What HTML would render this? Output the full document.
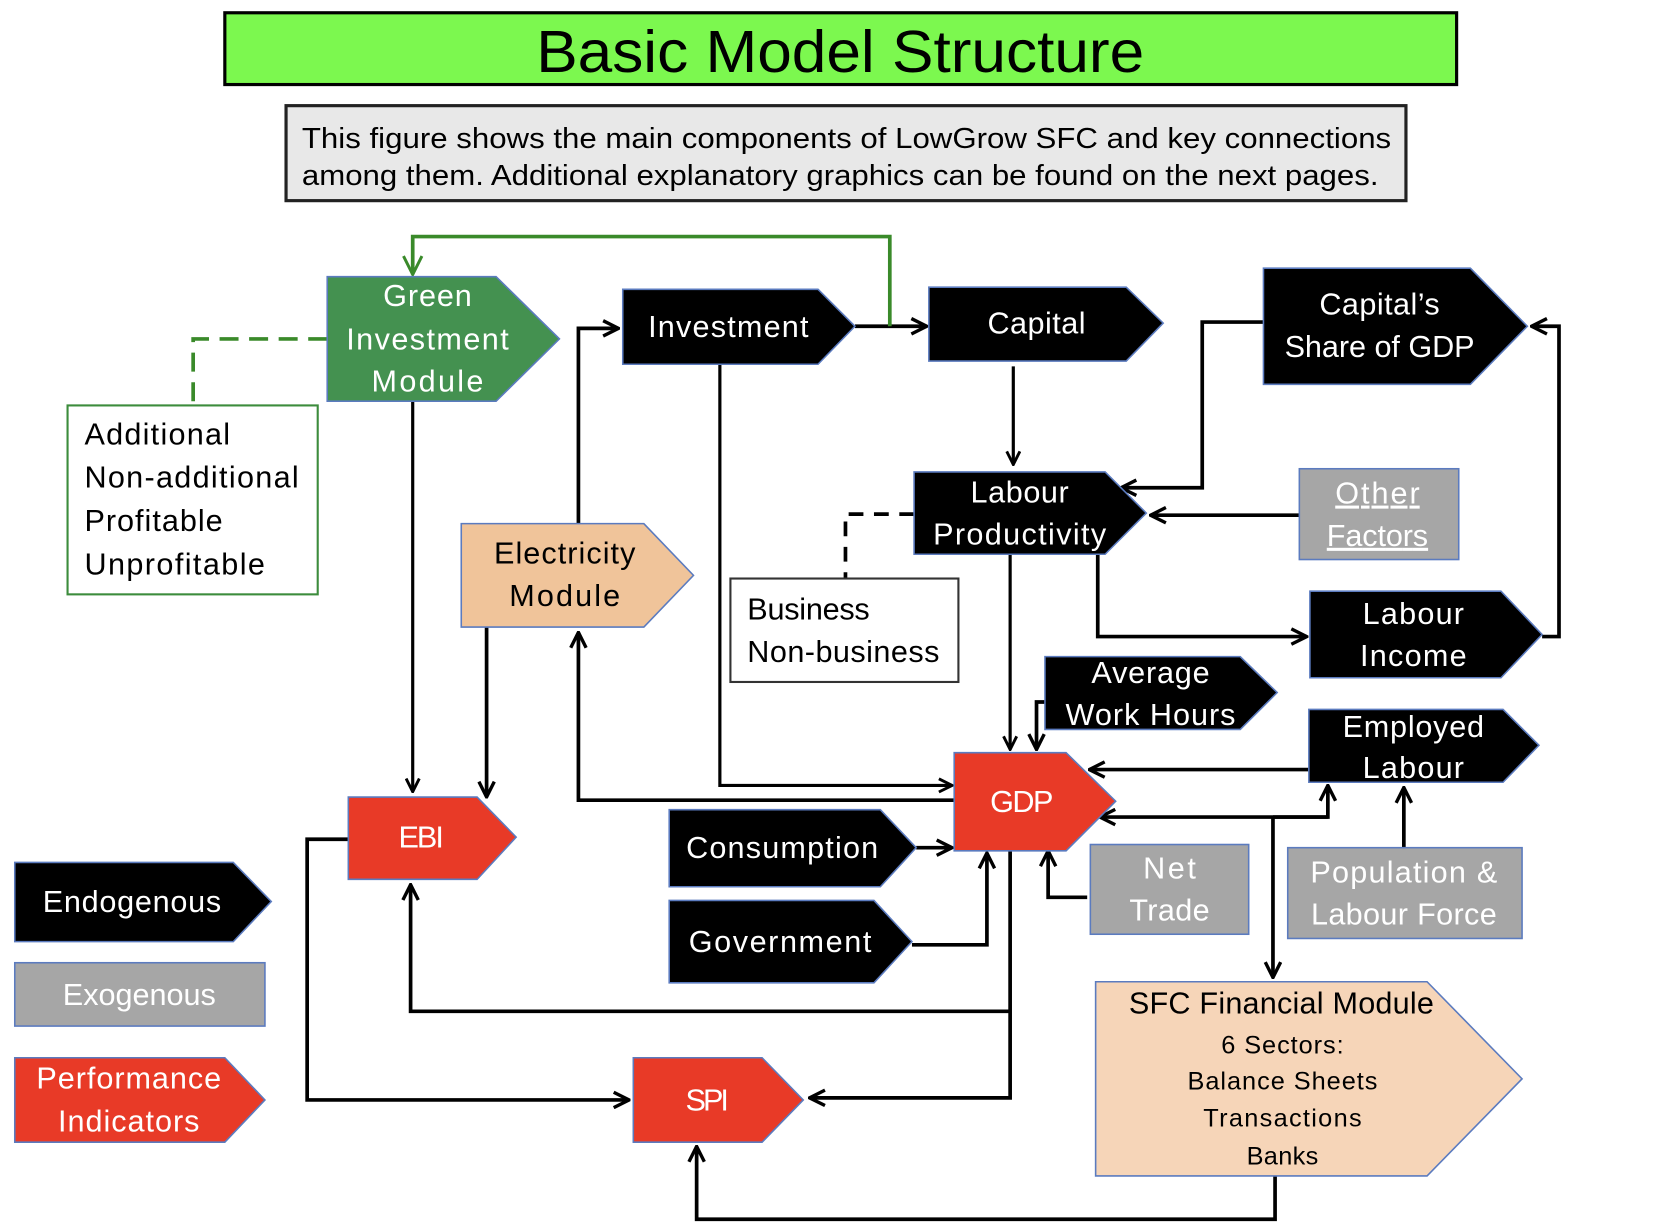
<!DOCTYPE html>
<html><head><meta charset="utf-8"><style>
html,body{margin:0;padding:0;background:#fff;width:1654px;height:1232px;overflow:hidden}
svg{display:block}
text{font-family:"Liberation Sans",sans-serif}
</style></head><body>
<svg width="1654" height="1232" viewBox="0 0 1567 1167" xmlns="http://www.w3.org/2000/svg">
<defs>
<marker id="a" viewBox="0 0 12 12" refX="11" refY="6" markerWidth="5" markerHeight="5" orient="auto" markerUnits="strokeWidth">
<polyline points="1,1 11,6 1,11" fill="none" stroke="#000" stroke-width="2.2"/></marker>
<marker id="g" viewBox="0 0 12 12" refX="11" refY="6" markerWidth="6" markerHeight="6" orient="auto" markerUnits="strokeWidth">
<polyline points="1,1 11,6 1,11" fill="none" stroke="#3a8a2a" stroke-width="1.6"/></marker>
</defs>
<rect x="213" y="12" width="1167" height="68" fill="#7cf84f" stroke="#000" stroke-width="3"/>
<text x="796" y="68" font-size="56" text-anchor="middle" textLength="576" lengthAdjust="spacingAndGlyphs">Basic Model Structure</text>
<rect x="271" y="100" width="1061" height="90" fill="#e8e8e8" stroke="#222" stroke-width="3"/>
<text x="286" y="140" font-size="27" textLength="1032" lengthAdjust="spacingAndGlyphs">This figure shows the main components of LowGrow SFC and key connections</text>
<text x="286" y="175" font-size="27" textLength="1020" lengthAdjust="spacingAndGlyphs">among them. Additional explanatory graphics can be found on the next pages.</text>

<g fill="none" stroke="#000" stroke-width="3.5">
<polyline points="810,309 878,309" marker-end="url(#a)"/>
<polyline points="682,345 682,744 902,744" stroke-width="3" marker-end="url(#a)"/>
<polyline points="960,347 960,440" stroke-width="3" marker-end="url(#a)"/>
<polyline points="1197,305 1139,305 1139,462 1062,462" marker-end="url(#a)"/>
<polyline points="1231,488 1090,488" marker-end="url(#a)"/>
<polyline points="957,525 957,710" stroke-width="3" marker-end="url(#a)"/>
<polyline points="1040,525 1040,603 1238,603" marker-end="url(#a)"/>
<polyline points="1461,603 1477,603 1477,309 1451,309" marker-end="url(#a)"/>
<polyline points="990,665 982,665 982,710" marker-end="url(#a)"/>
<polyline points="1240,729 1032,729" marker-end="url(#a)"/>
<polyline points="1258,774 1042,774" marker-end="url(#a)"/>
<polyline points="1206,774 1258,774 1258,744" marker-end="url(#a)"/>
<polyline points="1206,774 1206,926" marker-end="url(#a)"/>
<polyline points="1330,803 1330,746" marker-end="url(#a)"/>
<polyline points="1030,850 993,850 993,806" marker-end="url(#a)"/>
<polyline points="868,803 902,803" marker-end="url(#a)"/>
<polyline points="864,895 935,895 935,808" marker-end="url(#a)"/>
<polyline points="904,758 548,758 548,599" marker-end="url(#a)"/>
<polyline points="548,496 548,311 586,311" marker-end="url(#a)"/>
<polyline points="461,594 461,755" marker-end="url(#a)"/>
<polyline points="391,380 391,750" stroke-width="3" marker-end="url(#a)"/>
<polyline points="957,806 957,1040 767,1040" marker-end="url(#a)"/>
<polyline points="957,958 389,958 389,838" marker-end="url(#a)"/>
<polyline points="330,795 291,795 291,1042 596,1042" marker-end="url(#a)"/>
<polyline points="1208,1114 1208,1155 660,1155 660,1086" marker-end="url(#a)"/>
<polyline points="866,487 801,487 801,548" stroke-dasharray="14,10"/>
</g>
<polyline points="843,309 843,224 391,224 391,260" fill="none" stroke="#3a8a2a" stroke-width="3.5" marker-end="url(#g)"/>
<polyline points="310,321 183,321 183,384" fill="none" stroke="#3a8a2a" stroke-width="3.5" stroke-dasharray="18,10"/>

<g stroke="#5b7bbf" stroke-width="1.5">
<polygon points="310,262 470,262 530,321 470,380 310,380" fill="#449150"/>
<polygon points="590,274 775,274 810,309 775,345 590,345" fill="#000"/>
<polygon points="880,272 1067,272 1102,306 1067,342 880,342" fill="#000"/>
<polygon points="1197,254 1393,254 1447,309 1393,364 1197,364" fill="#000"/>
<polygon points="866,447 1047,447 1086,486 1047,525 866,525" fill="#000"/>
<rect x="1231" y="444" width="151" height="86" fill="#a6a6a6"/>
<polygon points="437,496 610,496 657,545 610,594 437,594" fill="#f0c49a"/>
<polygon points="1241,560 1422,560 1461,601 1422,642 1241,642" fill="#000"/>
<polygon points="990,622 1175,622 1210,656 1175,691 990,691" fill="#000"/>
<polygon points="1240,672 1424,672 1458,706 1424,741 1240,741" fill="#000"/>
<polygon points="904,713 1010,713 1057,759 1010,806 904,806" fill="#e83a27"/>
<polygon points="330,755 452,755 489,793 452,833 330,833" fill="#e83a27"/>
<polygon points="634,767 834,767 868,803 834,840 634,840" fill="#000"/>
<polygon points="634,853 828,853 864,892 828,931 634,931" fill="#000"/>
<rect x="1033" y="800" width="150" height="85" fill="#a6a6a6"/>
<rect x="1220" y="803" width="222" height="86" fill="#a6a6a6"/>
<polygon points="1038,930 1352,930 1442,1022 1352,1114 1038,1114" fill="#f6d5b8"/>
<polygon points="14,817 221,817 257,854 221,892 14,892" fill="#000"/>
<rect x="14" y="912" width="237" height="60" fill="#a6a6a6"/>
<polygon points="14,1002 213,1002 251,1042 213,1082 14,1082" fill="#e83a27"/>
<polygon points="600,1002 722,1002 761,1042 722,1082 600,1082" fill="#e83a27"/>
</g>
<rect x="64" y="384" width="237" height="179" fill="#fff" stroke="#3c8c3c" stroke-width="2"/>
<rect x="692" y="548" width="216" height="98" fill="#fff" stroke="#333" stroke-width="2"/>

<g font-size="29" text-anchor="middle" fill="#fff" lengthAdjust="spacingAndGlyphs">
<text x="405" y="290" textLength="84">Green</text>
<text x="405" y="331" textLength="154">Investment</text>
<text x="405" y="371" textLength="106">Module</text>
<text x="690" y="319" textLength="152">Investment</text>
<text x="982" y="316" textLength="93">Capital</text>
<text x="1307" y="298" textLength="114">Capital’s</text>
<text x="1307" y="338" textLength="180">Share of GDP</text>
<text x="966" y="476" textLength="93">Labour</text>
<text x="966" y="516" textLength="164">Productivity</text>
<text x="1305" y="477" textLength="80" text-decoration="underline">Other</text>
<text x="1305" y="517" textLength="96" text-decoration="underline">Factors</text>
<text x="1339" y="591" textLength="96">Labour</text>
<text x="1339" y="631" textLength="101">Income</text>
<text x="1090" y="647" textLength="112">Average</text>
<text x="1090" y="687" textLength="161">Work Hours</text>
<text x="1339" y="698" textLength="134">Employed</text>
<text x="1339" y="737" textLength="96">Labour</text>
<text x="968" y="769" textLength="60">GDP</text>
<text x="399" y="803" textLength="43">EBI</text>
<text x="741" y="813" textLength="182">Consumption</text>
<text x="739" y="902" textLength="173">Government</text>
<text x="1108" y="832" textLength="50">Net</text>
<text x="1108" y="872" textLength="76">Trade</text>
<text x="1330" y="836" textLength="177">Population &amp;</text>
<text x="1330" y="876" textLength="176">Labour Force</text>
<text x="125" y="864" textLength="169">Endogenous</text>
<text x="132" y="952" textLength="145">Exogenous</text>
<text x="122" y="1031" textLength="175">Performance</text>
<text x="122" y="1072" textLength="134">Indicators</text>
<text x="670" y="1052" textLength="41">SPI</text>
</g>
<g font-size="29" fill="#000" lengthAdjust="spacingAndGlyphs">
<text x="535" y="534" text-anchor="middle" textLength="134">Electricity</text>
<text x="535" y="574" text-anchor="middle" textLength="105">Module</text>
<text x="80" y="421" textLength="138">Additional</text>
<text x="80" y="462" textLength="203">Non-additional</text>
<text x="80" y="503" textLength="131">Profitable</text>
<text x="80" y="544" textLength="171">Unprofitable</text>
<text x="708" y="587" textLength="116">Business</text>
<text x="708" y="627" textLength="182">Non-business</text>
<text x="1214" y="960" text-anchor="middle" textLength="289">SFC Financial Module</text>
</g>
<g font-size="24" fill="#000" text-anchor="middle" lengthAdjust="spacingAndGlyphs">
<text x="1215" y="998" textLength="116">6 Sectors:</text>
<text x="1215" y="1032" textLength="180">Balance Sheets</text>
<text x="1215" y="1067" textLength="150">Transactions</text>
<text x="1215" y="1103" textLength="68">Banks</text>
</g>
</svg>
</body></html>
